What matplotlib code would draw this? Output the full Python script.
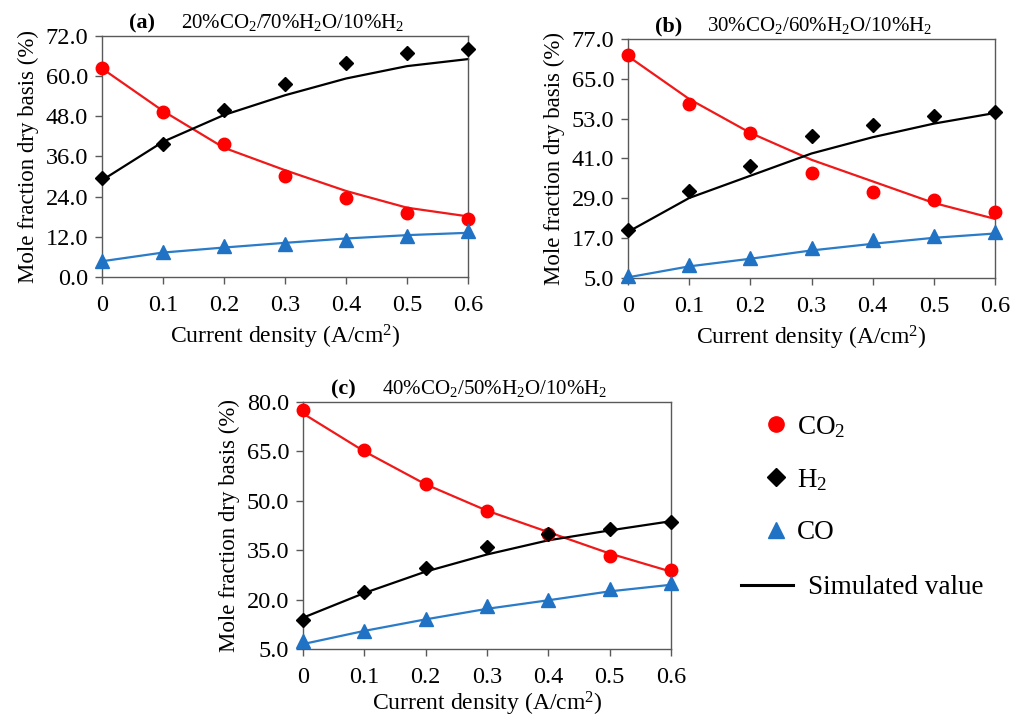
import matplotlib
matplotlib.use("Agg")
import matplotlib.pyplot as plt
from matplotlib.lines import Line2D

plt.rcParams['font.family'] = ['Liberation Serif', 'DejaVu Serif']
plt.rcParams['mathtext.fontset'] = 'custom'
plt.rcParams['mathtext.rm'] = 'Liberation Serif'
plt.rcParams['mathtext.it'] = 'Liberation Serif:italic'
plt.rcParams['mathtext.bf'] = 'Liberation Serif:bold'

# ---------------- data ----------------
current_density = [0.0, 0.1, 0.2, 0.3, 0.4, 0.5, 0.6]
x_tick_labels = ["0", "0.1", "0.2", "0.3", "0.4", "0.5", "0.6"]

# panel (a) 20%CO2/70%H2O/10%H2
a_co2_exp = [62.5, 49.4, 39.7, 30.2, 23.5, 19.1, 17.4]
a_h2_exp = [29.6, 39.7, 49.9, 57.6, 63.8, 66.8, 68.0]
a_co_exp = [4.7, 7.5, 9.3, 9.8, 11.0, 12.3, 13.6]
a_co2_sim = [62.3, 49.6, 38.6, 31.9, 25.7, 20.7, 18.1]
a_h2_sim = [28.9, 40.4, 48.4, 54.3, 59.3, 63.0, 65.1]
a_co_sim = [4.7, 7.3, 8.8, 10.2, 11.5, 12.5, 13.2]
a_yticks = [0, 12, 24, 36, 48, 60, 72]

# panel (b) 30%CO2/60%H2O/10%H2
b_co2_exp = [72.3, 57.4, 48.7, 36.6, 30.8, 28.5, 24.9]
b_h2_exp = [19.4, 31.1, 38.8, 47.9, 51.0, 53.9, 55.0]
b_co_exp = [5.5, 9.0, 11.0, 14.0, 16.3, 17.6, 18.8]
b_co2_sim = [71.8, 58.9, 48.7, 40.6, 34.1, 27.6, 22.8]
b_h2_sim = [18.9, 29.1, 35.8, 42.5, 47.4, 51.5, 54.7]
b_co_sim = [5.2, 8.5, 10.8, 13.3, 15.3, 17.1, 18.4]
b_yticks = [5, 17, 29, 41, 53, 65, 77]

# panel (c) 40%CO2/50%H2O/10%H2
c_co2_exp = [77.7, 65.5, 55.0, 47.0, 40.0, 33.2, 29.0]
c_h2_exp = [13.7, 22.2, 29.5, 36.0, 39.8, 41.3, 43.7]
c_co_exp = [7.5, 10.5, 14.2, 18.0, 19.8, 23.2, 25.0]
c_co2_sim = [76.5, 65.0, 55.0, 47.0, 40.5, 34.0, 28.5]
c_h2_sim = [14.5, 22.0, 28.5, 33.7, 38.0, 41.0, 43.8]
c_co_sim = [6.5, 10.5, 14.0, 17.2, 19.8, 22.5, 24.5]
c_yticks = [5, 20, 35, 50, 65, 80]

panel_tags = ["(a)", "(b)", "(c)"]
panel_titles = [r"20%CO$_2$/70%H$_2$O/10%H$_2$",
                r"30%CO$_2$/60%H$_2$O/10%H$_2$",
                r"40%CO$_2$/50%H$_2$O/10%H$_2$"]
legend_labels = [r"CO$_2$", r"H$_2$", "CO", "Simulated value"]

# ---------------- style ----------------
RED = "#FF0000"
RED_LINE = "#F01818"
BLACK = "#000000"
BLUE = "#1F72C4"
BLUE_LINE = "#2A7BC8"
SPINE = "#595959"

fig = plt.figure(figsize=(10.12, 7.2), dpi=100)

positions = [
    [0.1008, 0.6153, 0.3617, 0.3347],
    [0.6206, 0.6139, 0.3626, 0.3320],
    [0.2994, 0.0986, 0.3636, 0.3431],
]
xlabel_pads = [5, 5, 1]

panels = [
    (a_co2_exp, a_h2_exp, a_co_exp, a_co2_sim, a_h2_sim, a_co_sim, a_yticks),
    (b_co2_exp, b_h2_exp, b_co_exp, b_co2_sim, b_h2_sim, b_co_sim, b_yticks),
    (c_co2_exp, c_h2_exp, c_co_exp, c_co2_sim, c_h2_sim, c_co_sim, c_yticks),
]

for i, (pos, pdata) in enumerate(zip(positions, panels)):
    co2e, h2e, coe, co2s, h2s, cos_, yt = pdata
    ax = fig.add_axes(pos)
    x = current_density
    ax.plot(x, co2s, color=RED_LINE, lw=1.6, zorder=2, clip_on=False)
    ax.plot(x, h2s, color=BLACK, lw=1.6, zorder=2, clip_on=False)
    ax.plot(x, cos_, color=BLUE_LINE, lw=1.6, zorder=2, clip_on=False)
    ax.plot(x, co2e, ls='none', marker='o', ms=9, color=RED, mec=RED, zorder=3, clip_on=False)
    ax.plot(x, h2e, ls='none', marker='D', ms=7.5, color=BLACK, zorder=3, clip_on=False)
    ax.plot(x, coe, ls='none', marker='^', ms=10, color=BLUE, zorder=3, clip_on=False)

    ax.set_xlim(0, 0.6)
    ax.set_ylim(yt[0], yt[-1])
    ax.set_xticks(x)
    ax.set_xticklabels(x_tick_labels)
    ax.set_yticks(yt)
    ax.set_yticklabels([f"{v:.1f}" for v in yt])
    ax.tick_params(axis='both', labelsize=17.5, direction='out', length=5,
                   width=1, color=SPINE)
    ax.tick_params(axis='x', pad=8)
    ax.tick_params(axis='y', pad=5)
    for sp in ax.spines.values():
        sp.set_color(SPINE)
        sp.set_linewidth(1.0)
    ax.set_xlabel("Current density (A/cm$^2$)", fontsize=17, labelpad=xlabel_pads[i])
    ax.set_ylabel("Mole fraction dry basis (%)", fontsize=16.5, labelpad=5)
    ax.text(0.11, 1.012, panel_tags[i], transform=ax.transAxes, fontsize=16,
            fontweight='bold', ha='center', va='bottom')
    ax.text(0.215, 1.012, panel_titles[i], transform=ax.transAxes, fontsize=15,
            ha='left', va='bottom')

# ---------------- legend ----------------
marker_handles = [
    Line2D([], [], ls='none', marker='o', ms=11, color=RED),
    Line2D([], [], ls='none', marker='D', ms=9, color=BLACK),
    Line2D([], [], ls='none', marker='^', ms=12, color=BLUE),
]
fig.legend(marker_handles, legend_labels[:3], loc='upper left',
           bbox_to_anchor=(0.745, 0.44), frameon=False, fontsize=19.5,
           handlelength=0.8, handletextpad=0.4, labelspacing=1.0,
           borderaxespad=0, bbox_transform=fig.transFigure)
line_handle = [Line2D([], [], color=BLACK, lw=2.2)]
fig.legend(line_handle, legend_labels[3:], loc='upper left',
           bbox_to_anchor=(0.722, 0.216), frameon=False, fontsize=19.5,
           handlelength=1.9, handletextpad=0.55, borderaxespad=0,
           bbox_transform=fig.transFigure)

fig.savefig("out.png", dpi=100)
